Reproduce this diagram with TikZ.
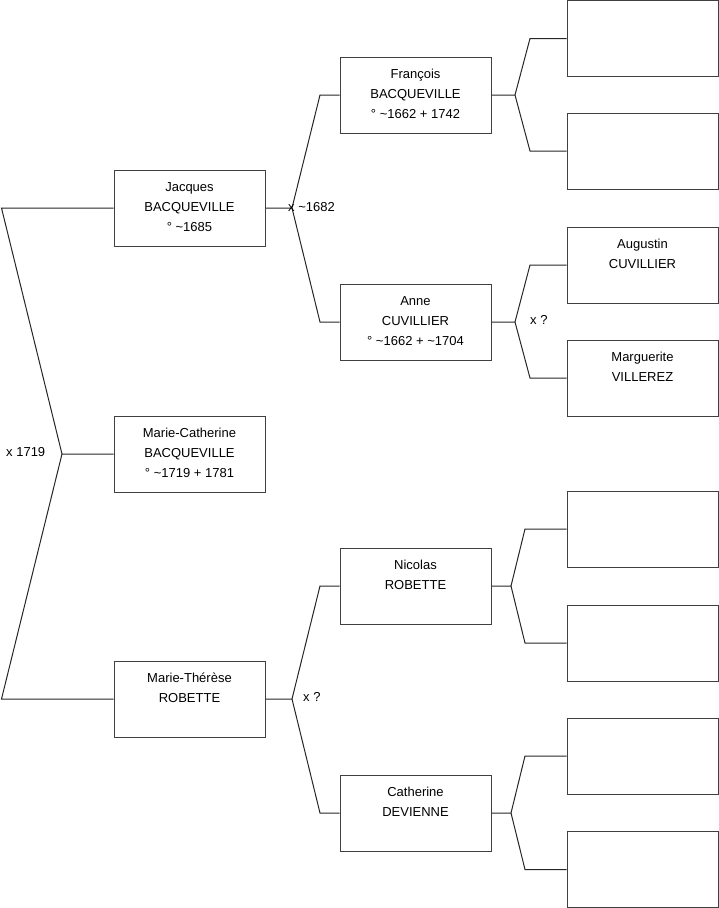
\documentclass[tikz,border=0pt]{standalone}
\usepackage{fontspec}
\setmainfont{Liberation Sans}
\newcommand\who[1]{\parbox[c][62pt][t]{150pt}{\centering\strut #1}}
\def\tl{\textasciitilde}

\begin{document}
\begin{tikzpicture}[x=1pt, y=-1pt,
  person/.style={draw=black!75, line width=1pt, minimum width=151pt, minimum height=76pt, inner sep=0pt, font=\fontsize{13}{20}\selectfont},
  link/.style={line width=1pt, black!85},
  union/.style={anchor=west, inner sep=0pt, font=\fontsize{13}{20}\selectfont}]

  \useasboundingbox (0,0) rectangle (719,908);

  % persons
  \node[person] (mc) at (189.5,454) {\who{Marie-Catherine\\BACQUEVILLE\\° \tl1719 + 1781}};
  \node[person] (jb) at (189.5,208) {\who{Jacques\\BACQUEVILLE\\° \tl1685}};
  \node[person] (mt) at (189.5,699) {\who{Marie-Thérèse\\ROBETTE}};

  \node[person] (fb) at (415.5,95)  {\who{François\\BACQUEVILLE\\° \tl1662 + 1742}};
  \node[person] (ac) at (415.5,322) {\who{Anne\\CUVILLIER\\° \tl1662 + \tl1704}};
  \node[person] (nr) at (415.5,586) {\who{Nicolas\\ROBETTE}};
  \node[person] (cd) at (415.5,813) {\who{Catherine\\DEVIENNE}};

  \node[person] (g1) at (642.5,38.5) {};
  \node[person] (g2) at (642.5,151)  {};
  \node[person] (g3) at (642.5,265)  {\who{Augustin\\CUVILLIER}};
  \node[person] (g4) at (642.5,378)  {\who{Marguerite\\VILLEREZ}};
  \node[person] (g5) at (642.5,529)  {};
  \node[person] (g6) at (642.5,643)  {};
  \node[person] (g7) at (642.5,756)  {};
  \node[person] (g8) at (642.5,869.5) {};

  % forks
  \coordinate (x1) at (62,454);
  \coordinate (x1a) at (1.5,208);
  \coordinate (x1b) at (1.5,699);

  \coordinate (x2) at (292,208);
  \coordinate (x2a) at (320,95);
  \coordinate (x2b) at (320,322);

  \coordinate (x3) at (292,699);
  \coordinate (x3a) at (320,586);
  \coordinate (x3b) at (320,813);

  \coordinate (x4) at (515,95);
  \coordinate (x4a) at (530,38.5);
  \coordinate (x4b) at (530,151);

  \coordinate (x5) at (515,322);
  \coordinate (x5a) at (530,265);
  \coordinate (x5b) at (530,378);

  \coordinate (x6) at (511,586);
  \coordinate (x6a) at (525,529);
  \coordinate (x6b) at (525,643);

  \coordinate (x7) at (511,813);
  \coordinate (x7a) at (525,756);
  \coordinate (x7b) at (525,869.5);

  \draw[link] (mc.west) -- (x1) -- (x1a) -- (jb.west); % father
  \draw[link] (x1) -- (x1b) -- (mt.west);             % mother

  \draw[link] (jb.east) -- (x2) -- (x2a) -- (fb.west);
  \draw[link] (x2) -- (x2b) -- (ac.west);

  \draw[link] (mt.east) -- (x3) -- (x3a) -- (nr.west);
  \draw[link] (x3) -- (x3b) -- (cd.west);

  \draw[link] (fb.east) -- (x4) -- (x4a) -- (g1.west);
  \draw[link] (x4) -- (x4b) -- (g2.west);

  \draw[link] (ac.east) -- (x5) -- (x5a) -- (g3.west);
  \draw[link] (x5) -- (x5b) -- (g4.west);

  \draw[link] (nr.east) -- (x6) -- (x6a) -- (g5.west);
  \draw[link] (x6) -- (x6b) -- (g6.west);

  \draw[link] (cd.east) -- (x7) -- (x7a) -- (g7.west);
  \draw[link] (x7) -- (x7b) -- (g8.west);

  % marriages
  \node[union] (m1) at (6,452) {x 1719};
  \node[union] (m2) at (288,207) {x \tl1682};
  \node[union] (m3) at (303,697) {x ?};
  \node[union] (m4) at (530,320) {x ?};

\end{tikzpicture}
\end{document}
